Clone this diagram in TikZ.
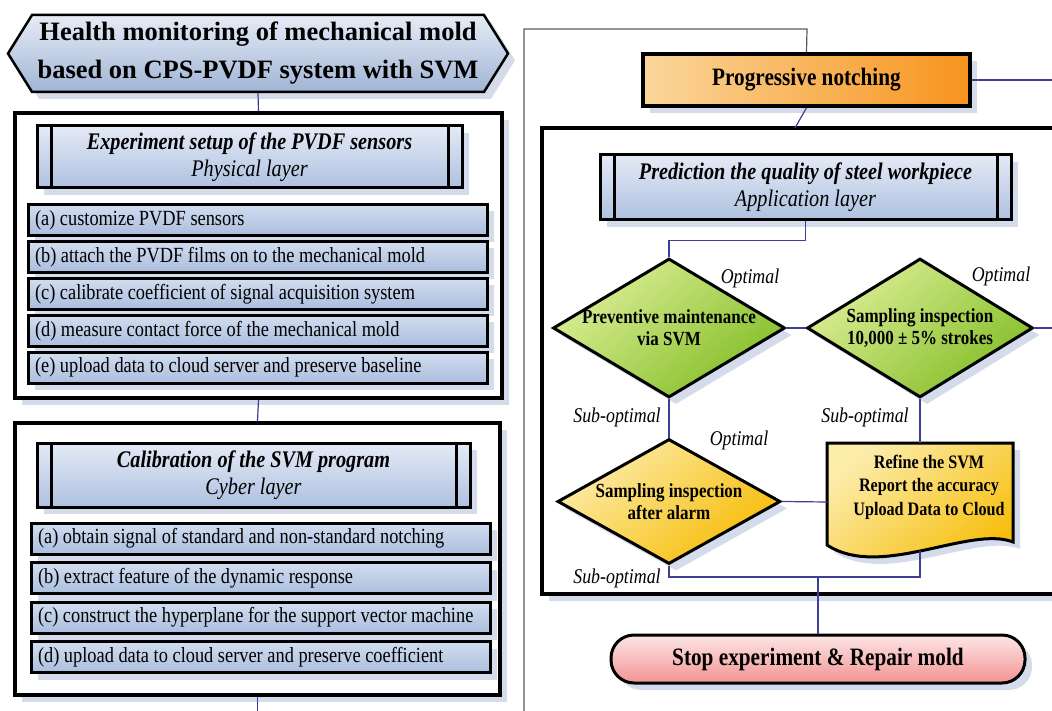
\documentclass[tikz,border=0pt]{standalone}
\usepackage{fontspec}
\setmainfont{Liberation Serif}[FakeStretch=0.85]
\newfontfamily\titlefont{Liberation Serif}
\usetikzlibrary{shapes.geometric,shapes.symbols,shadows}

\definecolor{linkblue}{RGB}{62,62,150}
\definecolor{loopgrey}{RGB}{90,90,90}
\definecolor{shadowgrey}{RGB}{212,220,236}
\definecolor{titleL}{RGB}{230,236,246}
\definecolor{titleD}{RGB}{160,180,212}
\definecolor{blueL}{RGB}{228,234,246}
\definecolor{blueD}{RGB}{174,193,224}
\definecolor{itemL}{RGB}{210,221,239}
\definecolor{itemD}{RGB}{170,190,222}
\definecolor{greenL}{RGB}{220,238,150}
\definecolor{greenD}{RGB}{132,190,40}
\definecolor{goldL}{RGB}{252,236,170}
\definecolor{goldD}{RGB}{246,188,5}
\definecolor{orangeL}{RGB}{250,214,155}
\definecolor{orangeM}{RGB}{249,168,50}
\definecolor{orangeD}{RGB}{247,148,29}
\definecolor{pinkL}{RGB}{253,230,230}
\definecolor{pinkD}{RGB}{243,146,146}

\tikzset{
  softshadow/.style={drop shadow={shadow xshift=7pt, shadow yshift=-7pt, fill=shadowgrey, opacity=1}},
  link/.style={draw=linkblue, line width=1.2pt},
  loopline/.style={draw=loopgrey, line width=1.2pt},
  titlebox/.style={signal, signal to=west and east, signal pointer angle=116, draw, line width=2.5pt,
    top color=titleL, bottom color=titleD, softshadow, inner sep=0pt, minimum width=500pt,
    minimum height=77pt, align=center, font=\titlefont\bfseries\fontsize{26.5}{38}\selectfont},
  layerbox/.style={draw, line width=3.5pt, fill=white, softshadow, inner sep=0pt},
  layerhead/.style={draw, line width=3pt, top color=blueL, bottom color=blueD, softshadow,
    align=center, inner sep=0pt, font=\itshape\fontsize{23.8}{27}\selectfont,
    path picture={\draw[line width=3pt]
      ([xshift=14pt]path picture bounding box.north west) -- ([xshift=14pt]path picture bounding box.south west)
      ([xshift=-14pt]path picture bounding box.north east) -- ([xshift=-14pt]path picture bounding box.south east);}},
  task/.style={draw, line width=3pt, top color=itemL, bottom color=itemD, softshadow,
    inner xsep=7pt, inner ysep=0pt, minimum height=31pt,
    font=\fontsize{21.6}{24}\selectfont},
  decision/.style={diamond, draw, line width=3pt, inner sep=0pt, softshadow},
  greenfill/.style={top color=greenL, bottom color=greenD, shading angle=40},
  goldfill/.style={top color=goldL, bottom color=goldD, shading angle=40},
  dtext/.style={align=center, inner sep=0pt, font=\bfseries\fontsize{20}{22}\selectfont},
  docshape/.style={draw, line width=3pt, top color=goldL, bottom color=goldD, shading angle=40, softshadow},
  doctext/.style={align=center, font=\bfseries\fontsize{19}{23.5}\selectfont},
  progbox/.style={draw, line width=3.5pt, left color=orangeL, middle color=orangeM, right color=orangeD,
    softshadow, minimum width=327pt, minimum height=52pt, inner sep=0pt,
    font=\bfseries\fontsize{25}{28}\selectfont},
  stopbox/.style={draw, line width=3pt, rounded corners=23pt, top color=pinkL, bottom color=pinkD,
    softshadow, minimum width=414pt, minimum height=48pt, inner sep=0pt,
    font=\bfseries\fontsize{25}{28}\selectfont},
  branch/.style={font=\itshape\fontsize{21}{24}\selectfont, inner sep=0pt}
}

\begin{document}
\begin{tikzpicture}[x=1pt, y=-1pt]
    \useasboundingbox (0,0) rectangle (1052,711);

    \node[titlebox] (title) at (258,53.5) {Health monitoring of mechanical mold\\based on CPS-PVDF system with SVM};

    \node[layerbox, minimum width=487pt, minimum height=285pt] (phys) at (258.5,255.5) {};
    \node[layerhead, minimum width=425pt, minimum height=62pt] (physhead) at (249.5,157)
        {\textbf{Experiment setup of the PVDF sensors}\\Physical layer};
    \foreach \txt [count=\i from 0] in {(a) customize PVDF sensors,
        (b) attach the PVDF films on to the mechanical mold,
        (c) calibrate coefficient of signal acquisition system,
        (d) measure contact force of the mechanical mold,
        (e) upload data to cloud server and preserve baseline}
        \node[task] (physitem\i) at (257.5,220+36.9*\i) {\makebox[445pt][l]{\txt}};

    \node[layerbox, minimum width=485pt, minimum height=272pt] (cyber) at (257.5,559) {};
    \node[layerhead, minimum width=433pt, minimum height=64pt] (cyberhead) at (253.5,475)
        {\textbf{Calibration of the SVM program}\\Cyber layer};
    \foreach \txt [count=\i from 0] in {(a) obtain signal of standard and non-standard notching,
        (b) extract feature of the dynamic response,
        (c) construct the hyperplane for the support vector machine,
        (d) upload data to cloud server and preserve coefficient}
        \node[task] (cyberitem\i) at (260.5,538.5+39.5*\i) {\makebox[445pt][l]{\txt}};

    \coordinate (cyberout) at (257.5,711);
    \draw[link] (title.south) -- (phys.north);
    \draw[link] (phys.south) -- (cyber.north);
    \draw[link] (cyber.south) -- (cyberout);

    \node[layerbox, minimum width=523pt, minimum height=466pt] (app) at (803.5,361) {};
    \node[progbox] (prog) at (806.5,80) {Progressive notching};
    \node[layerhead, minimum width=411pt, minimum height=65pt] (apphead) at (805.5,187.5)
        {\textbf{Prediction the quality of steel workpiece}\\Application layer};

    \node[decision, greenfill, minimum width=232pt, minimum height=139pt] (maint) at (669,328) {};
    \node[dtext] (mainttext) at (maint) {Preventive maintenance\\via SVM};
    \node[decision, greenfill, minimum width=226pt, minimum height=139pt] (sample) at (920,328) {};
    \node[dtext] (sampletext) at (sample) {Sampling inspection\\10,000 ± 5\% strokes};
    \node[decision, goldfill, minimum width=223pt, minimum height=125pt] (alarm) at (669,501.5) {};
    \node[dtext] (alarmtext) at (alarm) {Sampling inspection\\after alarm};

    \path[docshape] (827,443) -- (1013,443) -- (1013,542)
        .. controls (970,525) and (880,580) .. (827,545) -- cycle;
    \node[doctext] (refine) at (929,487) {Refine the SVM\\Report the accuracy\\Upload Data to Cloud};
    \coordinate (refinetop) at (920,443);
    \coordinate (refineleft) at (827,502);
    \coordinate (refinebot) at (920,551);

    \node[stopbox] (stop) at (818,659) {Stop experiment \& Repair mold};

    \node[branch] (maintok) at (750,278) {Optimal};
    \node[branch] (sampleok) at (1001,276) {Optimal};
    \node[branch] (maintsub) at (617,417) {Sub-optimal};
    \node[branch] (alarmok) at (739,440) {Optimal};
    \node[branch] (samplesub) at (865,417) {Sub-optimal};
    \node[branch] (alarmsub) at (617,578) {Sub-optimal};

    \coordinate (loopin) at (524,711);
    \coordinate (looptop) at (807,29);
    \coordinate (progout) at (1052,80);
    \coordinate (appin) at (795,128);
    \coordinate (sampleout) at (1052,328);
    \coordinate (merge) at (818,577);

    \draw[loopline] (loopin) |- (looptop) -- (prog.north);
    \draw[link] (prog.east) -- (progout);
    \draw[link] (prog.south) -- (appin);
    \draw[link] (apphead.south) -- ++(0,19) -| (maint.north);
    \draw[link] (maint.east) -- (sample.west);
    \draw[link] (sample.east) -- (sampleout);
    \draw[link] (maint.south) -- (alarm.north);
    \draw[link] (sample.south) -- (refinetop);
    \draw[link] (alarm.east) -- (refineleft);
    \draw[link] (alarm.south) |- (merge) -| (refinebot);
    \draw[link] (merge) -- (stop.north);

\end{tikzpicture}
\end{document}
